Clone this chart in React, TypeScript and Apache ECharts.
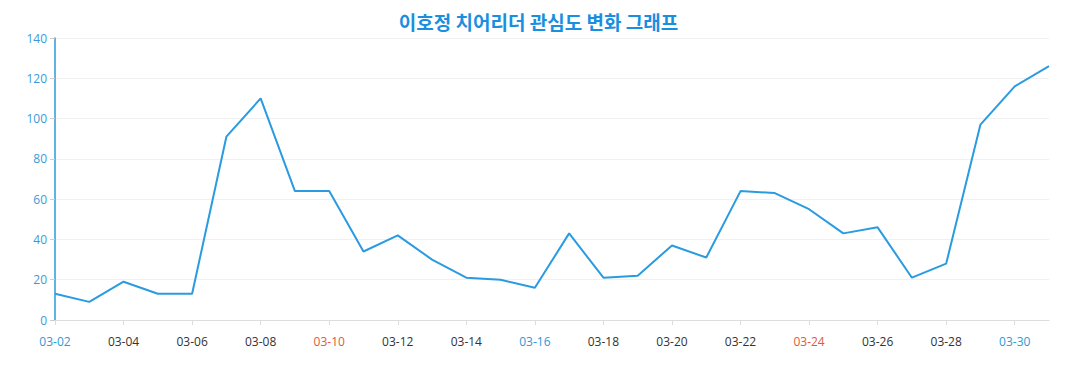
import React, { useEffect, useRef } from "react";
import * as echarts from "echarts";

const titleText = "이호정 치어리더 관심도 변화 그래프";
const dates = [
  "03-02","03-03","03-04","03-05","03-06","03-07","03-08","03-09","03-10","03-11",
  "03-12","03-13","03-14","03-15","03-16","03-17","03-18","03-19","03-20","03-21",
  "03-22","03-23","03-24","03-25","03-26","03-27","03-28","03-29","03-30","03-31",
];
const interest = [
  13, 9, 19, 13, 13, 91, 110, 64, 64, 34,
  42, 30, 21, 20, 16, 43, 21, 22, 37, 31,
  64, 63, 55, 43, 46, 21, 28, 97, 116, 126,
];
const blueDates = ["03-02", "03-16", "03-30"];
const redDates = ["03-10", "03-24"];

export default function App() {
  const ref = useRef<HTMLDivElement>(null);
  useEffect(() => {
    if (!ref.current) return;
    const chart = echarts.init(ref.current, undefined, { renderer: "svg" });
    chart.setOption({
      animation: false,
      title: {
        text: titleText,
        left: "center",
        top: 7,
        textStyle: {
          color: "#1a8fe0",
          fontSize: 19,
          fontWeight: "bold",
          fontFamily: "'Noto Sans CJK KR', 'Noto Sans', sans-serif",
        },
      },
      grid: { left: 55, right: 28, top: 38, bottom: 70, containLabel: false },
      xAxis: {
        type: "category",
        data: dates,
        boundaryGap: false,
        axisLine: { lineStyle: { color: "#ddd" } },
        axisTick: { show: true, lineStyle: { color: "#ddd" } },
        axisLabel: {
          interval: 1,
          margin: 15,
          fontSize: 12,
          fontFamily: "'Open Sans', 'Noto Sans', sans-serif",
          color: (value: string) =>
            blueDates.includes(value) ? "#2a9ad8" : redDates.includes(value) ? "#e0583e" : "#333",
        },
        splitLine: { show: false },
      },
      yAxis: {
        type: "value",
        min: 0,
        max: 140,
        interval: 20,
        axisLine: { show: true, lineStyle: { color: "#2a9ad8", width: 1.5 } },
        axisTick: { show: true, lineStyle: { color: "#ccc" } },
        axisLabel: {
          color: "#3a9ad6",
          fontSize: 12,
          fontFamily: "'Open Sans', 'Noto Sans', sans-serif",
        },
        splitLine: { lineStyle: { color: "#eef0f2" } },
      },
      series: [
        {
          type: "line",
          data: interest,
          showSymbol: false,
          symbol: "none",
          lineStyle: { color: "#2a9be0", width: 2 },
          itemStyle: { color: "#2a9be0" },
        },
      ],
    });
    return () => chart.dispose();
  }, []);
  return <div ref={ref} style={{ width: 1077, height: 390, margin: -8 }} />;
}
